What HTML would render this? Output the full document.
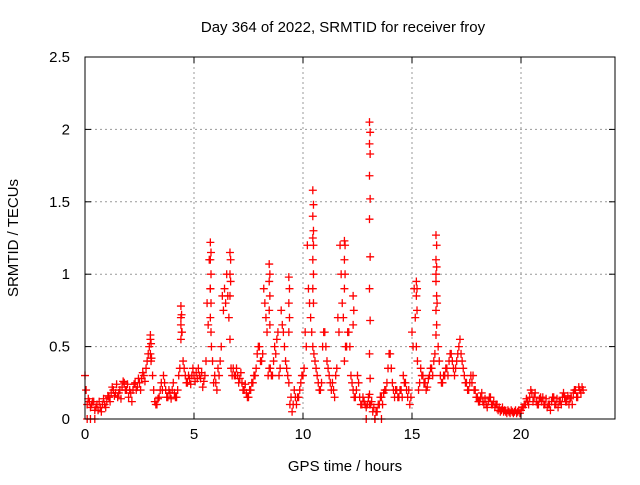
<!DOCTYPE html>
<html><head><meta charset="utf-8"><style>
body{margin:0;background:#fff;}
svg text{font-family:"Liberation Sans",sans-serif;font-size:15px;fill:#000;}
</style></head><body>
<svg id="chart" width="640" height="480" viewBox="0 0 640 480" xmlns="http://www.w3.org/2000/svg">
<rect width="640" height="480" fill="#fff"/>
<text x="343" y="32" text-anchor="middle">Day 364 of 2022, SRMTID for receiver froy</text>
<text transform="translate(18,238) rotate(-90)" text-anchor="middle">SRMTID / TECUs</text>
<text x="345" y="471" text-anchor="middle">GPS time / hours</text>
<g id="grid"></g><g id="marks"></g><g id="axes"></g>
</svg>
<script>
const xTicks=[0,5,10,15,20];
const yTicks=[0,0.5,1,1.5,2,2.5];
const yTickLabels=["0","0.5","1","1.5","2","2.5"];
const baseStart=0, baseStep=0.1;
const baseValues=[0.3,0.1,0.12,0.1,0.12,0.08,0.06,0.08,0.1,0.1,
0.12,0.15,0.18,0.2,0.18,0.15,0.2,0.22,0.25,0.2,
0.15,0.18,0.2,0.25,0.22,0.25,0.28,0.3,0.35,0.45,
0.55,0.3,0.12,0.1,0.15,0.25,0.3,0.2,0.15,0.18,
0.2,0.18,0.15,0.3,0.7,0.4,0.3,0.25,0.28,0.3,
0.3,0.32,0.35,0.28,0.22,0.3,0.8,1.1,0.5,0.25,
0.25,0.35,0.4,0.85,0.9,1.0,0.7,0.35,0.35,0.3,
0.3,0.28,0.25,0.2,0.18,0.15,0.2,0.25,0.3,0.45,
0.5,0.4,0.9,0.7,0.3,0.35,0.3,0.5,0.55,0.3,
0.75,0.6,0.4,0.3,0.1,0.05,0.2,0.1,0.15,0.25,
0.3,0.6,1.2,0.8,0.6,0.45,0.35,0.25,0.2,0.5,
0.6,0.4,0.3,0.2,0.2,0.3,0.7,1.2,0.8,0.4,
0.5,0.6,0.3,0.2,0.15,0.3,0.15,0.1,0.12,0.08,
0.15,0.1,0.05,0.0,0.05,0.1,0.15,0.18,0.2,0.35,
0.45,0.25,0.15,0.2,0.15,0.2,0.3,0.25,0.15,0.1,
0.6,0.9,0.5,0.2,0.35,0.3,0.25,0.22,0.3,0.35,
0.4,1.0,0.5,0.3,0.25,0.3,0.35,0.4,0.45,0.35,
0.35,0.45,0.55,0.4,0.3,0.25,0.2,0.3,0.3,0.2,
0.15,0.12,0.18,0.1,0.1,0.12,0.15,0.1,0.08,0.1,
0.08,0.06,0.05,0.05,0.06,0.04,0.05,0.05,0.04,0.06,
0.06,0.08,0.1,0.12,0.15,0.18,0.15,0.12,0.1,0.15,
0.15,0.1,0.08,0.1,0.12,0.15,0.1,0.08,0.12,0.15,
0.15,0.12,0.1,0.15,0.18,0.2,0.15,0.2,0.22];
const baseValues2=[0.2,0.14,0.08,0.12,0.06,0.1,0.12,0.05,0.14,0.08,
0.16,0.12,0.22,0.16,0.24,0.18,0.14,0.26,0.2,0.24,
0.2,0.12,0.24,0.2,0.28,0.2,0.32,0.26,0.4,0.5,
0.42,0.2,0.1,0.14,0.2,0.2,0.25,0.15,0.2,0.14,
0.25,0.15,0.2,0.35,0.6,0.35,0.25,0.3,0.24,0.35,
0.26,0.28,0.3,0.32,0.26,0.4,0.65,0.9,0.4,0.3,
0.2,0.3,0.5,0.75,0.8,0.85,0.55,0.3,0.3,0.35,
0.25,0.32,0.2,0.24,0.15,0.2,0.25,0.3,0.35,0.5,
0.4,0.45,0.8,0.6,0.35,0.3,0.4,0.45,0.6,0.35,
0.65,0.5,0.35,0.25,0.15,0.1,0.15,0.15,0.2,0.3,
0.35,0.5,0.9,0.7,0.5,0.4,0.3,0.2,0.25,0.6,
0.5,0.35,0.25,0.25,0.15,0.35,0.6,1.0,0.7,0.5,
0.6,0.5,0.25,0.15,0.2,0.25,0.1,0.15,0.1,0.1,
0.1,0.12,0.08,0.05,0.1,0.15,0.1,0.2,0.25,0.45,
0.35,0.2,0.2,0.15,0.2,0.15,0.25,0.2,0.2,0.15,
0.5,0.7,0.4,0.25,0.3,0.25,0.2,0.28,0.35,0.3,
0.45,0.8,0.4,0.25,0.3,0.35,0.3,0.45,0.4,0.3,
0.4,0.5,0.45,0.35,0.25,0.2,0.25,0.25,0.2,0.15,
0.12,0.15,0.12,0.14,0.08,0.15,0.1,0.12,0.1,0.06,
0.05,0.08,0.06,0.04,0.05,0.06,0.04,0.06,0.05,0.04,
0.08,0.1,0.14,0.1,0.2,0.12,0.18,0.1,0.14,0.12,
0.1,0.14,0.1,0.06,0.15,0.1,0.14,0.12,0.1,0.18,
0.12,0.16,0.14,0.1,0.2,0.15,0.22,0.18,0.2];
const spikeTimes=[13.05,10.45,16.1,5.75,6.65,8.45,9.35,11.9,12.3,15.2,3.0,4.4];
const spikeValues=[
[2.05,1.98,1.9,1.83,1.68,1.52,1.38,1.12,0.9,0.68,0.45,0.28,0.17],
[1.58,1.48,1.4,1.3,1.25,1.2,1.1,1.0,0.9,0.8],
[1.27,1.2,1.1,1.05,0.95,0.85,0.75,0.65,0.58],
[1.22,1.15,1.1,1.0,0.9,0.8,0.7,0.6],
[1.15,1.1,1.0,0.95,0.85],
[1.07,1.0,0.95,0.85,0.75,0.65],
[0.98,0.9,0.8,0.7,0.6],
[1.23,1.2,1.1,1.0,0.9],
[0.85,0.75,0.65],
[0.95,0.9,0.85,0.75],
[0.58,0.52,0.45,0.4],
[0.78,0.72,0.65,0.6,0.55]];
const zeroTimes=[0.1,0.25,0.45,12.9,13.3,13.6];

const X0=85,X1=615,Y0=419,Y1=57;
const xs=h=>X0+h*21.8;
const ys=v=>Y0-(v/2.5)*(Y0-Y1);
const NS="http://www.w3.org/2000/svg";
const grid=document.getElementById('grid'),marks=document.getElementById('marks'),axes=document.getElementById('axes');
function mk(tag,attrs,parent){const e=document.createElementNS(NS,tag);for(const k in attrs)e.setAttribute(k,attrs[k]);parent.appendChild(e);return e;}
const frame=mk('rect',{x:X0,y:Y1,width:X1-X0,height:Y0-Y1,fill:'none',stroke:'#000','stroke-width':1},axes);


xTicks.forEach(t=>{
 const x=xs(t);
 if(t>0){const g=mk('line',{x1:x,y1:Y1,x2:x,y2:Y0,stroke:'#999','stroke-dasharray':'2,3'},grid);
 
 }
 mk('line',{x1:x,y1:Y0,x2:x,y2:Y0-6,stroke:'#000'},axes);
 mk('line',{x1:x,y1:Y1,x2:x,y2:Y1+6,stroke:'#000'},axes);
 const l=mk('text',{x:x,y:Y0+20,'text-anchor':'middle'},axes);l.textContent=t;
 
 
});
yTicks.forEach((t,i)=>{
 const y=ys(t);
 if(t>0&&t<2.5){const g=mk('line',{x1:X0,y1:y,x2:X1,y2:y,stroke:'#999','stroke-dasharray':'2,3'},grid);
 
 }
 mk('line',{x1:X0,y1:y,x2:X0+6,y2:y,stroke:'#000'},axes);
 mk('line',{x1:X1,y1:y,x2:X1-6,y2:y,stroke:'#000'},axes);
 const l=mk('text',{x:X0-15,y:y+5,'text-anchor':'end'},axes);l.textContent=yTickLabels[i];
 
 
});
function plus(h,v){
 const x=xs(h),y=ys(v);
 const p=mk('path',{d:`M${x-4} ${y}h8M${x} ${y-4}v8`,stroke:'#f00','stroke-width':1.3,fill:'none'},marks);
 
 
}
baseValues.forEach((v,i)=>plus(baseStart+i*baseStep,v));
baseValues2.forEach((v,i)=>plus(baseStart+i*baseStep+0.05,v));
spikeTimes.forEach((t,i)=>spikeValues[i].forEach((v,j)=>plus(t+(j%2)*0.03,v)));
zeroTimes.forEach(t=>plus(t,0));
</script>
</body></html>
